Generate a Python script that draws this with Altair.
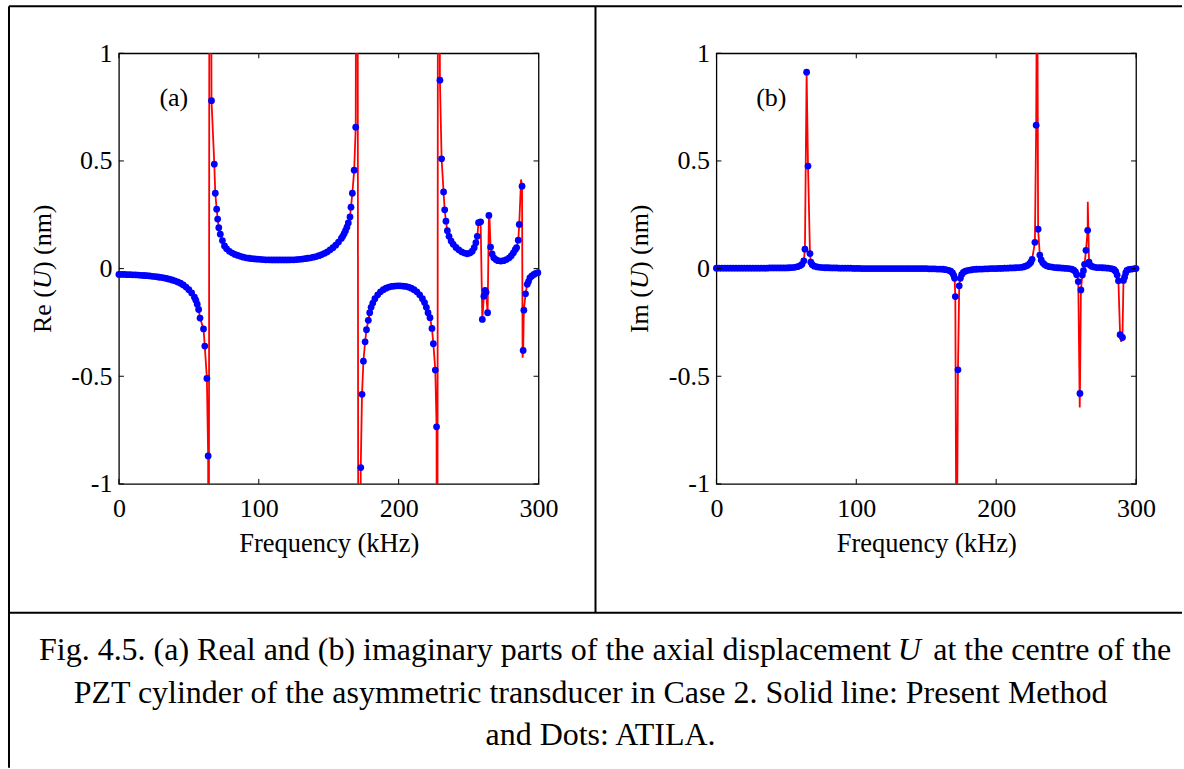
import altair as alt
import pandas as pd

# ---------------- data ----------------
# (a) Re(U): ATILA dots
re_dot_freq = [0, 2, 4, 6, 8, 10, 12, 14, 16, 18, 20, 22, 24, 26, 28, 30, 32, 34, 36, 38,
               40, 42, 44, 46, 48, 50, 52, 54, 55, 56, 57, 58, 60.5, 61.4, 62.9, 63.8,
               66.2, 68.2, 68.9, 69.9, 70.6, 71.4, 72.5, 74, 75.5, 77, 79, 81, 83, 85, 87, 89,
               91, 93, 95, 97, 99, 101, 103, 105, 107, 109, 111, 113, 115, 117, 119, 121, 123,
               125, 127, 129, 131, 133, 135, 137, 139, 141, 143, 145, 147, 149, 151, 153, 155,
               157, 159, 160, 161, 162, 163, 164, 165.2, 165.9, 166.9, 168.2, 169.3,
               172.9, 173.8, 174.8, 176.0, 177.0, 178.3, 179.3, 180.3, 181.5, 183, 185, 187,
               189, 191, 193, 195, 197, 199, 201, 203, 205, 207, 209, 211, 213, 215, 217,
               218.5, 219.8, 221, 222.4, 223.8, 224.8, 226.2, 227.1,
               229.5, 230.7, 232.1, 232.9, 233.8, 234.8, 236, 237.5, 239, 241, 243, 245, 247,
               249, 251, 252.6, 254, 255.2, 256.2, 257.1, 258.6, 259.8, 260.9, 261.8, 262.5,
               263.6, 264.5, 265.7, 266.8, 268, 269.5, 271, 273, 275, 277, 279, 280.5, 282,
               283.3, 284.3, 285.5, 286.2, 288.2, 289.0, 289.5, 290.7, 291.9, 292.8, 293.8,
               295.2, 296.7, 298, 299.5]
re_dot_val = [-0.027, -0.027, -0.027, -0.028, -0.028, -0.029, -0.029, -0.030, -0.031, -0.032,
              -0.033, -0.034, -0.036, -0.037, -0.039, -0.041, -0.043, -0.046, -0.049, -0.053,
              -0.057, -0.062, -0.068, -0.076, -0.086, -0.098, -0.113, -0.133, -0.147, -0.165,
              -0.19, -0.23, -0.28, -0.36, -0.51, -0.87,
              0.78, 0.485, 0.35, 0.276, 0.23, 0.19, 0.16, 0.13, 0.105, 0.092, 0.08, 0.072,
              0.066, 0.061, 0.057, 0.053, 0.05, 0.048, 0.046, 0.045, 0.044, 0.043, 0.042,
              0.041, 0.041, 0.040, 0.040, 0.040, 0.040, 0.040, 0.040, 0.040, 0.041, 0.041,
              0.042, 0.043, 0.044, 0.046, 0.048, 0.050, 0.053, 0.056, 0.060, 0.065, 0.071,
              0.078, 0.087, 0.097, 0.109, 0.123, 0.14, 0.15, 0.162, 0.176, 0.192, 0.212,
              0.24, 0.285, 0.35, 0.457, 0.657,
              -0.924, -0.584, -0.43, -0.34, -0.284, -0.24, -0.205, -0.18, -0.16, -0.14,
              -0.122, -0.108, -0.098, -0.091, -0.086, -0.083, -0.081, -0.080, -0.080, -0.081,
              -0.083, -0.086, -0.091, -0.098, -0.108, -0.122, -0.14, -0.158, -0.18, -0.205,
              -0.228, -0.278, -0.349, -0.471, -0.735,
              0.875, 0.51, 0.356, 0.273, 0.22, 0.176, 0.15, 0.128, 0.113, 0.098, 0.087,
              0.078, 0.072, 0.069, 0.072, 0.081, 0.097, 0.12, 0.15, 0.213, 0.217, -0.236,
              -0.128, -0.101, -0.11, -0.205, 0.247, 0.10, 0.068, 0.05, 0.042, 0.037, 0.035,
              0.037, 0.042, 0.05, 0.06, 0.073, 0.088, 0.097, 0.132, 0.205, 0.383, -0.38,
              -0.193, -0.117, -0.073, -0.06, -0.043, -0.034, -0.027, -0.022, -0.019]
# (a) Re(U): extra points of the Present Method line (overshoots at resonances)
re_line_extra_freq = [64.1, 64.9, 170.3, 171.5, 227.5, 228.3, 264.8, 287.5, 288.6]
re_line_extra_val = [-4.0, 4.0, 4.0, -4.0, -4.0, 4.0, 0.26, 0.414, -0.414]

# (b) Im(U): ATILA dots
im_dot_freq = [0, 2, 4, 6, 8, 10, 12, 14, 16, 18, 20, 22, 24, 26, 28, 30, 32, 34, 36, 38,
               40, 42, 44, 46, 48, 50, 52, 54, 56, 58, 60, 61.2, 62.5, 63.3, 64.5, 65.5,
               66.9, 67.5, 68.5, 70, 72, 74, 76, 78, 80, 82, 84, 86, 88, 90, 92, 94, 96, 98,
               100, 102, 104, 106, 108, 110, 112, 114, 116, 118, 120, 122, 124, 126, 128,
               130, 132, 134, 136, 138, 140, 142, 144, 146, 148, 150, 152, 154, 156, 158,
               160, 162, 164, 166, 167.5, 168.8, 169.7, 170.3, 170.8, 172.7, 173.6, 174.4,
               175.3, 176.5, 178, 180, 182, 184, 186, 188, 190, 192, 194, 196, 198, 200, 202,
               204, 206, 208, 210, 212, 214, 216, 218, 219.5, 221, 222.5, 223.8, 224.8,
               225.7, 227.7, 228.6, 230.0, 231.2, 232.2, 233.3, 234.5, 236, 238, 240, 242,
               244, 246, 248, 250, 252, 254, 255.5, 256.7, 257.6, 258.7, 259.9, 260.6,
               261.6, 262.4, 263.2, 264.2, 265.4, 266.4, 267.2, 268.5, 270, 272, 274, 276,
               278, 280, 282, 283.5, 284.5, 285.5, 286.5, 287.4, 288.6, 290.3, 291.0, 291.8,
               292.6, 293.5, 295, 297, 299, 300]
im_dot_val = [0.002, 0.002, 0.002, 0.002, 0.002, 0.002, 0.002, 0.002, 0.002, 0.002, 0.002,
              0.002, 0.002, 0.002, 0.002, 0.002, 0.002, 0.002, 0.002, 0.003, 0.003, 0.003,
              0.003, 0.003, 0.003, 0.003, 0.004, 0.005, 0.006, 0.009, 0.014, 0.02, 0.036,
              0.09, 0.912, 0.476, 0.07, 0.03, 0.018, 0.011, 0.008, 0.006, 0.005, 0.004,
              0.004, 0.003, 0.003, 0.003, 0.002, 0.002, 0.002, 0.002, 0.002, 0.001,
              0.001, 0.001, 0.0, 0.0, 0.0, 0.0, 0.0, 0.0, 0.0, 0.0, 0.0, 0.0, 0.0, 0.0, 0.0,
              0.0, 0.0, 0.0, 0.0, 0.0, 0.0, 0.0, 0.0, 0.0, 0.0, 0.0, -0.001, -0.001, -0.001,
              -0.002,
              -0.002, -0.003, -0.005, -0.008, -0.012, -0.02, -0.032, -0.045, -0.13, -0.47,
              -0.08, -0.045,
              -0.028, -0.018, -0.012, -0.008, -0.006, -0.004, -0.003, -0.002, -0.002, -0.001,
              -0.001, 0.0, 0.0, 0.0, 0.001,
              0.001, 0.002, 0.002, 0.003, 0.003, 0.004, 0.005, 0.006, 0.008, 0.011, 0.015,
              0.022, 0.03,
              0.043, 0.122, 0.666, 0.183, 0.063, 0.04, 0.027, 0.019, 0.013, 0.009, 0.007,
              0.005,
              0.004, 0.003, 0.002, 0.001, 0.0, -0.003, -0.007, -0.015, -0.028, -0.06, -0.58,
              -0.099,
              -0.03, -0.01, 0.02, 0.085, 0.178, 0.03, 0.015, 0.01, 0.007, 0.005, 0.005, 0.004,
              0.003, 0.002, 0.0, -0.002, -0.006, -0.014, -0.03, -0.057, -0.307, -0.32,
              -0.055, -0.04,
              -0.02, -0.008, -0.004, -0.002, 0.0, 0.0]
# (b) Im(U): extra points of the Present Method line
im_line_extra_freq = [171.7, 229.3, 259.75, 265.5, 289.4]
im_line_extra_val = [-1.6, 1.6, -0.645, 0.31, -0.34]

x_tick_values = [0, 100, 200, 300]
y_tick_values = [-1, -0.5, 0, 0.5, 1]
y_tick_labels = ["-1", "-0.5", "0", "0.5", "1"]

x_title = "Frequency (kHz)"
re_title = ["Re (", "U", ") (nm)"]
im_title = ["Im (", "U", ") (nm)"]
caption_1 = ["Fig. 4.5. (a) Real and (b) imaginary parts of the axial displacement", "U",
             "at the centre of the"]
caption_2 = "PZT cylinder of the asymmetric transducer in Case 2. Solid line: Present Method"
caption_3 = "and Dots: ATILA."

# ---------------- layout / style ----------------
W, H = 420, 431
FONT = "Liberation Serif"
TICK = 5
one = pd.DataFrame({"k": [0]})

label_expr = " : ".join(
    f"datum.value == {v} ? '{l}'" for v, l in zip(y_tick_values, y_tick_labels)
) + " : datum.label"

xs = alt.Scale(domain=[0, 300], nice=False, zero=False)
ys = alt.Scale(domain=[-1, 1], nice=False, zero=False)
X = alt.X("f:Q", scale=xs,
          axis=alt.Axis(values=x_tick_values, title=x_title, labelFlush=False,
                        labelOverlap=False, labelPadding=12, titlePadding=9))
Y = alt.Y("v:Q", scale=ys,
          axis=alt.Axis(values=y_tick_values, title=None, labelExpr=label_expr,
                        labelOverlap=False, labelPadding=7))


def txt(s, x, y, size=26, align="center", baseline="middle", style="normal", angle=None):
    kw = dict(font=FONT, fontSize=size, align=align, baseline=baseline,
              fontStyle=style, color="black")
    if angle is not None:
        kw["angle"] = angle
    return alt.Chart(one).mark_text(**kw).encode(
        x=alt.value(x), y=alt.value(y), text=alt.value(s))


def rule(x, y, x2=None, y2=None, width=2):
    enc = dict(x=alt.value(x), y=alt.value(y))
    if x2 is not None:
        enc["x2"] = alt.value(x2)
    if y2 is not None:
        enc["y2"] = alt.value(y2)
    return alt.Chart(one).mark_rule(color="black", strokeWidth=width).encode(**enc)


def panel(dot_f, dot_v, ex_f, ex_v, title, tag, extra):
    dots = pd.DataFrame({"f": dot_f, "v": dot_v})
    line = (pd.concat([dots, pd.DataFrame({"f": ex_f, "v": ex_v})])
            .sort_values("f").reset_index(drop=True))
    line_layer = alt.Chart(line).mark_line(color="#ff0000", strokeWidth=1.8, clip=True).encode(
        x=X, y=Y)
    dot_layer = alt.Chart(dots).mark_circle(color="#0000ff", opacity=1, size=46).encode(
        x=X, y=Y)
    xt = pd.DataFrame({"f": x_tick_values})
    yt = pd.DataFrame({"v": y_tick_values})
    ticks = [
        alt.Chart(xt).mark_rule(color="black", strokeWidth=1).encode(
            x=X, y=alt.value(H - TICK), y2=alt.value(H)),
        alt.Chart(xt).mark_rule(color="black", strokeWidth=1).encode(
            x=X, y=alt.value(0), y2=alt.value(TICK)),
        alt.Chart(yt).mark_rule(color="black", strokeWidth=1).encode(
            y=Y, x=alt.value(0), x2=alt.value(TICK)),
        alt.Chart(yt).mark_rule(color="black", strokeWidth=1).encode(
            y=Y, x=alt.value(W - TICK), x2=alt.value(W)),
    ]
    ytitle = [
        txt(title[0], -76, 236, align="right", angle=270),
        txt(title[1], -76, 226.6, align="center", style="italic", angle=270),
        txt(title[2], -76, 217, align="left", angle=270),
    ]
    label = txt(tag, 55, 45)
    return alt.layer(line_layer, dot_layer, *ticks, *ytitle, label, *extra).properties(
        width=W, height=H)


frame = [
    rule(-110, -47, x2=1064),          # top border
    rule(-110, -47, y2=715),           # left border
    rule(477, -47, y2=560),            # divider between panels
    rule(-110, 560, x2=1064),          # divider above caption
    txt(caption_1[0], 773, 607.5, size=32, align="right", baseline="alphabetic"),
    txt(caption_1[1], 791, 607.5, size=32, align="center", baseline="alphabetic",
        style="italic"),
    txt(caption_1[2], 815, 607.5, size=32, align="left", baseline="alphabetic"),
    txt(caption_2, 472, 650, size=32, align="center", baseline="alphabetic"),
    txt(caption_3, 482, 692.5, size=32, align="center", baseline="alphabetic"),
]

pa = panel(re_dot_freq, re_dot_val, re_line_extra_freq, re_line_extra_val, re_title, "(a)",
           frame)
pb = panel(im_dot_freq, im_dot_val, im_line_extra_freq, im_line_extra_val, im_title, "(b)",
           [])

chart = (
    alt.hconcat(pa, pb, spacing=178, bounds="flush")
    .properties(padding={"left": 7, "top": 4, "right": 0, "bottom": 0}, background="white")
    .configure_view(stroke="black", strokeWidth=1.3)
    .configure_axis(labelFont=FONT, labelFontSize=26, labelColor="black", titleFont=FONT,
                    titleFontSize=26.5, titleFontWeight="normal", titleColor="black",
                    ticks=False, tickSize=0, domain=False, grid=False)
)

chart.save("out.html", embed_options={"renderer": "svg", "actions": False})
